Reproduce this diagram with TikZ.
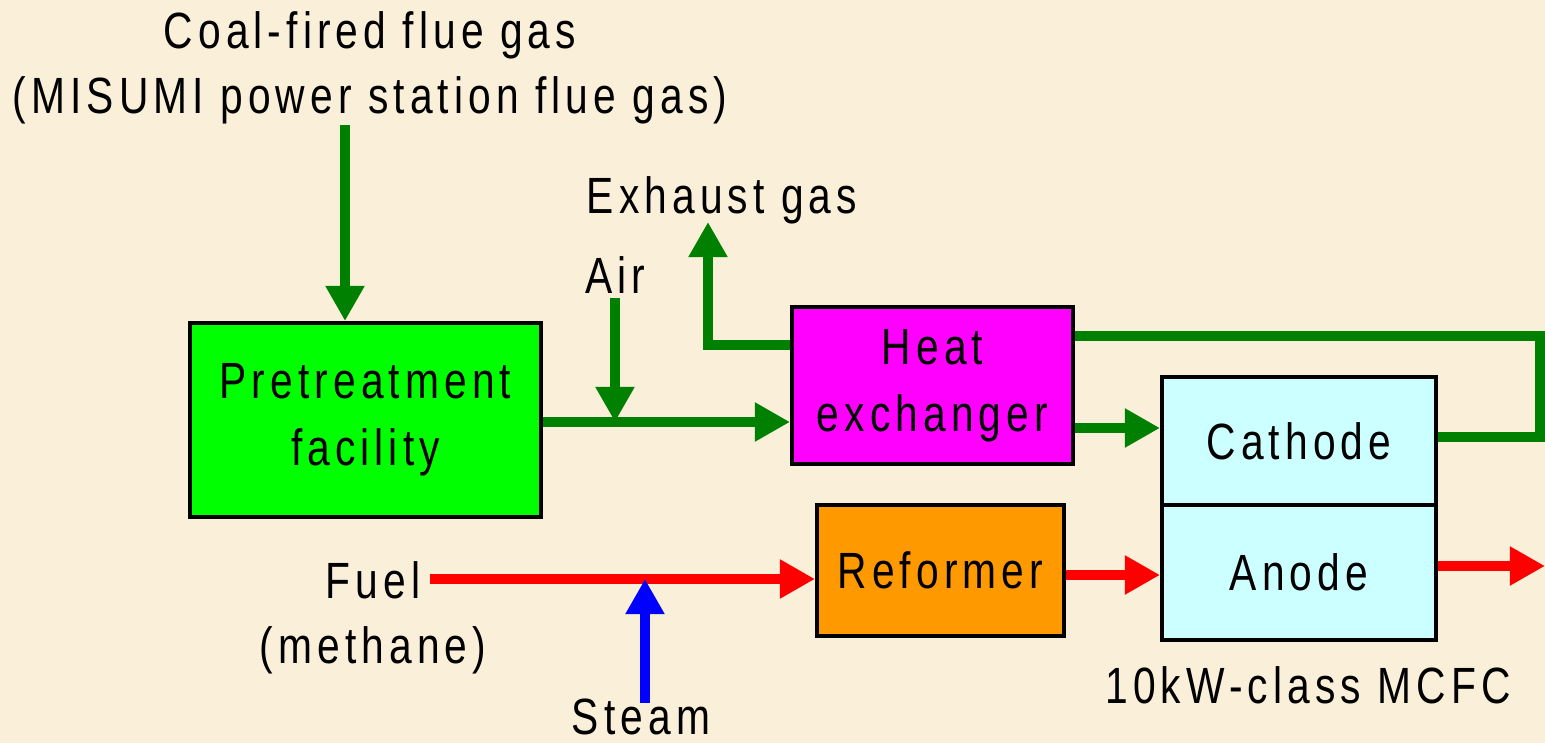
\documentclass[tikz,border=0pt]{standalone}
\usepackage{fontspec}
\setmainfont[FakeStretch=0.8, LetterSpace=10]{Liberation Sans}
\usepackage{tikz}
\usetikzlibrary{arrows.meta, positioning}
\definecolor{paperbeige}{HTML}{FAEFD9}
\definecolor{flowgreen}{HTML}{008000}
\definecolor{pretreatgreen}{HTML}{00FF00}
\definecolor{hxmagenta}{HTML}{FF00FF}
\definecolor{cellcyan}{HTML}{CCFFFF}
\definecolor{reformorange}{HTML}{FF9900}
\tikzset{
  unitbox/.style={draw=black, line width=2.3pt, inner sep=0pt, align=center,
    font=\fontsize{29}{38}\selectfont},
  flowtext/.style={inner sep=0pt, align=center, font=\fontsize{29}{37}\selectfont},
  flowline/.style={line width=5.7pt, line cap=butt},
  flowarrow/.style={flowline, -{Triangle[length=20pt, width=21pt]}},
}

\begin{document}
\begin{tikzpicture}[x=0.02cm, y=-0.02cm]
  % paper
  \fill[paperbeige] (0,0) rectangle (1545,743);
  \useasboundingbox (0,0) rectangle (1545,743);

  % units
  \node[unitbox, fill=pretreatgreen, minimum width=7.02cm, minimum height=3.88cm]
    (pre) at (365.5,420) {Pretreatment\\facility};
  \node[unitbox, fill=hxmagenta, minimum width=5.62cm, minimum height=3.14cm]
    (hx) at (932.5,385.5) {Heat\\exchanger};
  \node[unitbox, fill=cellcyan, minimum width=5.48cm, minimum height=2.56cm]
    (cat) at (1299,441) {Cathode};
  \node[unitbox, fill=cellcyan, minimum width=5.48cm, minimum height=2.7cm]
    (ano) at (1299,572.5) {Anode};
  \node[unitbox, fill=reformorange, minimum width=4.94cm, minimum height=2.62cm]
    (ref) at (940.5,570.5) {Reformer};

  % labels
  \node[flowtext] (coaltxt) at (370,68) {Coal-fired flue gas\\(MISUMI power station flue gas)};
  \node[flowtext] (exhtxt) at (722,200) {Exhaust gas};
  \node[flowtext] (airtxt) at (615,275) {Air};
  \node[flowtext] (fueltxt) at (373,618) {Fuel\\(methane)};
  \node[flowtext] (steamtxt) at (641,717) {Steam};
  \node[flowtext] (mcfctxt) at (1308,685) {10kW-class MCFC};

  % free ends and bends
  \coordinate (coalsrc) at (345,125);
  \coordinate (airsrc) at (615,298);
  \coordinate (exhturn) at (708,345);
  \coordinate (exhtop) at (708,222);
  \coordinate (airrow) at (0,428);
  \coordinate (loopa) at (1540,336);
  \coordinate (loopb) at (1540,437);
  \coordinate (fuelsrc) at (430,579);
  \coordinate (steamsrc) at (645,703);
  \coordinate (outend) at (1545,566);

  % gas side
  \draw[flowarrow, flowgreen] (coalsrc) -- (coalsrc |- pre.north);
  \draw[flowarrow, flowgreen] (pre.east |- 0,422) -- (hx.west |- 0,422);
  \draw[flowarrow, flowgreen] (airsrc) -- (airsrc |- 0,422);
  \draw[flowarrow, flowgreen] (hx.west |- exhturn) -- (exhturn) -- (exhtop);
  \draw[flowarrow, flowgreen] (hx.east |- airrow) -- (cat.west |- airrow);
  \draw[flowline, flowgreen] (hx.east |- loopa) -- (loopa) -- (loopb) -- (cat.east |- loopb);

  % fuel side
  \draw[flowarrow, red] (fuelsrc) -- (ref.west |- fuelsrc);
  \draw[flowarrow, blue] (steamsrc) -- (steamsrc |- fuelsrc);
  \draw[flowarrow, red] (ref.east |- 0,575) -- (ano.west |- 0,575);
  \draw[flowarrow, red] (ano.east |- outend) -- (outend);
\end{tikzpicture}
\end{document}
